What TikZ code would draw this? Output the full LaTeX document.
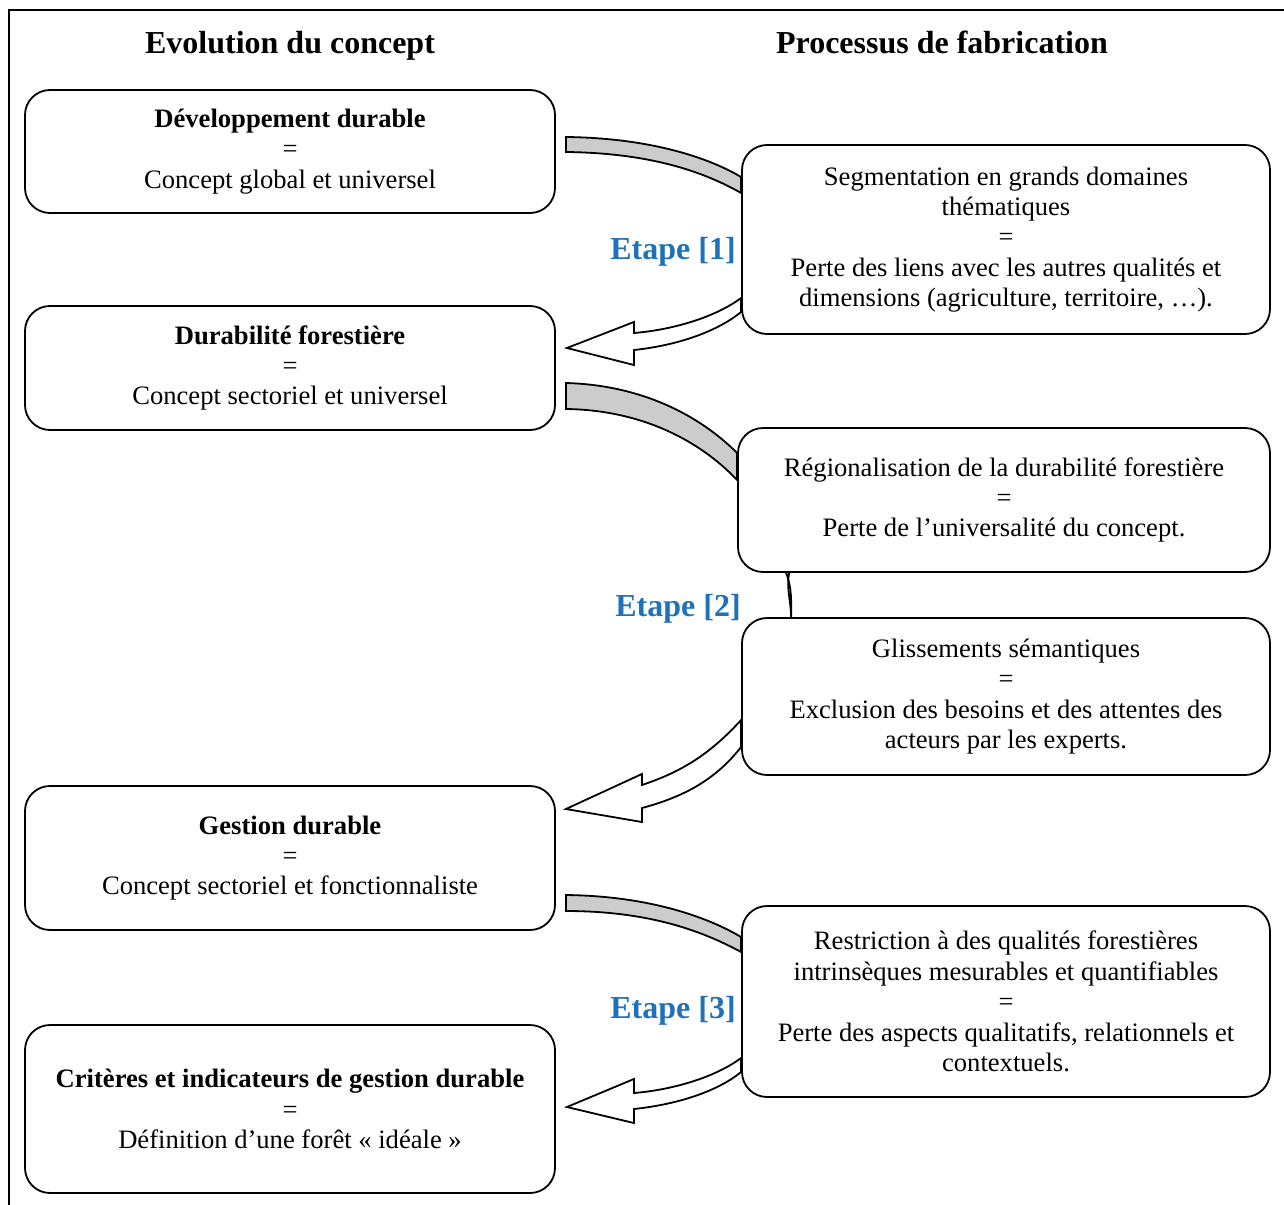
\documentclass[tikz,border=0pt]{standalone}
\usepackage{fontspec}
\setmainfont{Liberation Serif}
\usetikzlibrary{calc}
\definecolor{etapebleu}{RGB}{31,113,184}
\tikzset{
	boite/.style={draw, line width=0.9pt, rounded corners=12.5pt, fill=white, align=center,
		inner sep=0pt, font=\fontsize{13.3}{15.2}\selectfont,
		execute at begin node={\rule{0pt}{12.6pt}}},
	concept/.style={boite, minimum width=265pt},
	processus/.style={boite, minimum width=264pt},
	titre/.style={anchor=base, font=\fontsize{16}{19}\selectfont\bfseries},
	etape/.style={font=\fontsize{16}{19}\selectfont\bfseries, text=etapebleu},
	bande/.style={draw, line width=0.9pt, fill=black!20},
	fleche/.style={draw, line width=0.9pt, fill=white}
}
\begin{document}
\begin{tikzpicture}[x=0.5pt, y=-0.5pt]
		\clip (0,0) rectangle (1284,1204);
		\draw[line width=1pt] (1300,10) -- (9,10) -- (9,1220);
		
		\node[titre] (hg) at (290,54) {Evolution du concept};
		\node[titre] (hd) at (942,54) {Processus de fabrication};
		
		% colonne de gauche
		\node[concept, minimum height=61.5pt] (b1) at (290,151.5)
			{\textbf{Développement durable}\\=\\Concept global et universel};
		\node[concept, minimum height=62pt] (b2) at (290,368)
			{\textbf{Durabilité forestière}\\=\\Concept sectoriel et universel};
		\node[concept, minimum height=72pt] (b3) at (290,858)
			{\textbf{Gestion durable}\\=\\Concept sectoriel et fonctionnaliste};
		\node[concept, minimum height=84pt] (b4) at (290,1109)
			{\textbf{Critères et indicateurs de gestion durable}\\=\\Définition d’une forêt « idéale »};
		
		% colonne de droite
		\node[processus, minimum height=94.5pt] (r1) at (1006,239.5)
			{Segmentation en grands domaines\\thématiques\\=\\Perte des liens avec les autres qualités et\\dimensions (agriculture, territoire, …).};
		\node[processus, minimum width=266pt, minimum height=72pt] (r2) at (1004,500)
			{Régionalisation de la durabilité forestière\\=\\Perte de l’universalité du concept.};
		\node[processus, minimum height=78.5pt] (r3) at (1006,696.5)
			{Glissements sémantiques\\=\\Exclusion des besoins et des attentes des\\acteurs par les experts.};
		\node[processus, minimum height=95.5pt] (r4) at (1006,1001.5)
			{Restriction à des qualités forestières\\intrinsèques mesurables et quantifiables\\=\\Perte des aspects qualitatifs, relationnels et\\contextuels.};
		
		\node[etape] (e1) at (673,252) {Etape [1]};
		\node[etape] (e2) at (678,609) {Etape [2]};
		\node[etape] (e3) at (673,1011) {Etape [3]};
		
		% bandes grises
		\draw[bande] ($(b1.east)+(10,-14.5)$) .. controls +(85,1) and +(-32,-19) .. ($(r1.west)+(0,-62.5)$)
			-- ($(r1.west)+(0,-46.5)$) .. controls +(-37,-21) and +(85,1) .. ($(b1.east)+(10,0.5)$) -- cycle;
		\draw[bande] ($(b2.east)+(10,15)$) .. controls +(75,2) and +(-38,-38) .. ($(r2.west)+(0,-47)$)
			-- ($(r2.west)+(0,-20)$) .. controls +(-38,-40) and +(75,1) .. ($(b2.east)+(10,41)$) -- cycle;
		\draw[bande] ($(b3.east)+(10,37)$) .. controls +(85,1) and +(-32,-19) .. ($(r4.west)+(0,-64.5)$)
			-- ($(r4.west)+(0,-49.5)$) .. controls +(-37,-20) and +(85,0) .. ($(b3.east)+(10,53)$) -- cycle;
		
		% fleches blanches
		\coordinate (t1) at ($(b2.east)+(11,-20)$);
		\draw[fleche] ($(r1.west)+(0,58.5)$) .. controls +(-27,20) and +(37,-3) .. ($(t1)+(67,-15)$)
			-- ($(t1)+(67,-26)$) -- (t1) -- ($(t1)+(67,17)$) -- ($(t1)+(67,2)$)
			.. controls +(47,-5) and +(-22,18) .. ($(r1.west)+(0,72.5)$) -- cycle;
		\coordinate (t2) at ($(b3.east)+(10,-49)$);
		\draw[fleche] ($(r3.west)+(0,23.5)$) .. controls +(-32,35) and +(39,-13) .. ($(t2)+(76,-24)$)
			-- ($(t2)+(76,-35)$) -- (t2) -- ($(t2)+(76,13)$) -- ($(t2)+(76,-1)$)
			.. controls +(49,-13) and +(-22,28) .. ($(r3.west)+(0,50.5)$) -- cycle;
		\coordinate (t3) at ($(b4.east)+(11,-2)$);
		\draw[fleche] ($(r4.west)+(0,56.5)$) .. controls +(-27,20) and +(37,-3) .. ($(t3)+(67,-14)$)
			-- ($(t3)+(67,-28)$) -- (t3) -- ($(t3)+(67,16)$) -- ($(t3)+(67,2)$)
			.. controls +(47,-5) and +(-22,18) .. ($(r4.west)+(0,70.5)$) -- cycle;
		
		% liaison entre r2 et r3
		\draw[line width=0.9pt] ($(r2.south west)+(49,0)$) .. controls +(6,15) and +(0,-15) .. ($(r3.north west)+(50,0)$);
		\draw[line width=0.9pt] ($(r2.south west)+(52,0)$) .. controls +(-3,15) and +(0,-15) .. ($(r3.north west)+(50,0)$);
	\end{tikzpicture}
\end{document}
